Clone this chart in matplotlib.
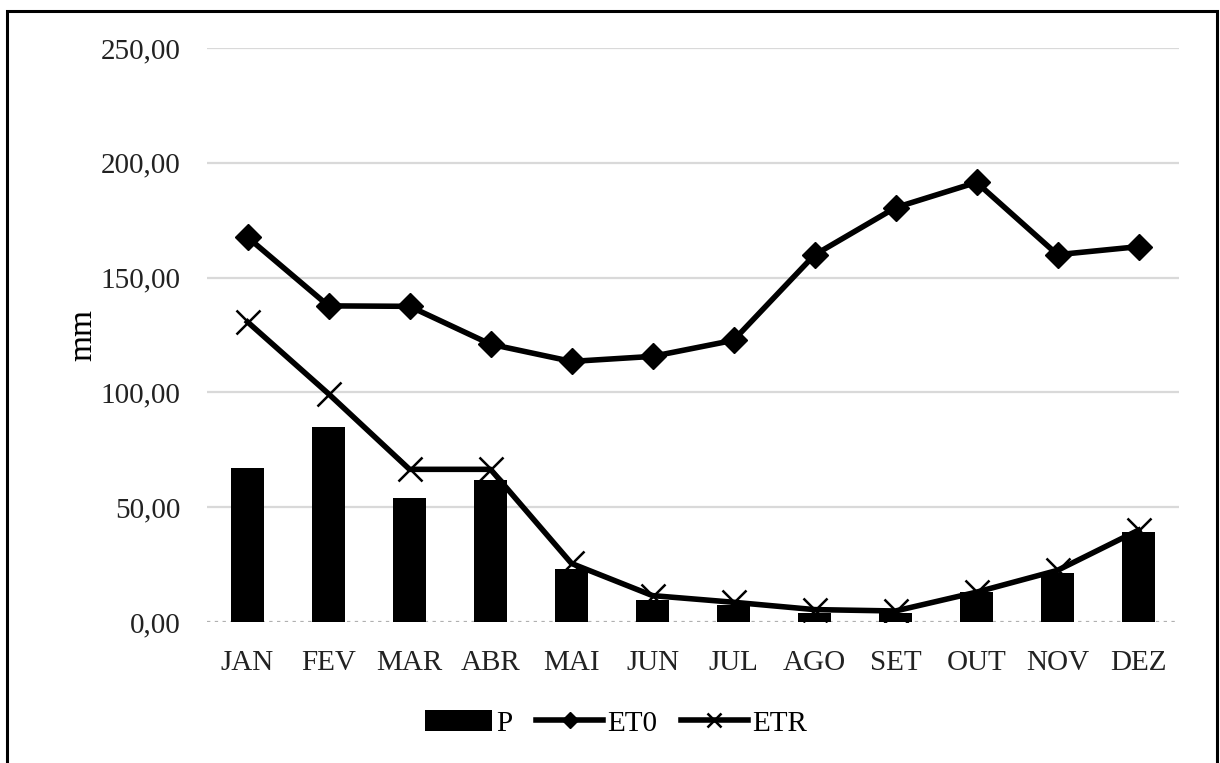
import matplotlib
matplotlib.use("Agg")
import matplotlib.pyplot as plt
import numpy as np
from matplotlib.patches import Rectangle
from matplotlib.ticker import FuncFormatter

months = ["JAN", "FEV", "MAR", "ABR", "MAI", "JUN", "JUL", "AGO", "SET", "OUT", "NOV", "DEZ"]
p = [67.2, 84.8, 54.0, 61.7, 23.2, 9.7, 7.5, 4.0, 3.8, 13.0, 21.2, 39.2]
et0 = [167.6, 137.7, 137.5, 121.0, 113.5, 115.7, 122.7, 159.9, 180.5, 191.5, 160.0, 163.5]
etr = [130.7, 99.4, 66.5, 66.5, 25.5, 11.5, 8.6, 5.4, 4.8, 13.0, 22.5, 40.0]

plt.rcParams['font.family'] = ['Liberation Serif', 'DejaVu Serif']

fig = plt.figure(figsize=(12.2, 7.63), dpi=100)
ax = fig.add_axes([0.1697, 0.1848, 0.7967, 0.7522])

x = np.arange(len(months))
bars = ax.bar(x, p, width=0.4, color='black', label='P', zorder=2)
l1, = ax.plot(x, et0, color='black', lw=4, marker='D', markersize=13, label='ET0', zorder=3)
l2, = ax.plot(x, etr, color='black', lw=4, marker='x', markersize=17, markeredgewidth=1.8,
              label='ETR', zorder=3)

ax.set_xlim(-0.5, 11.5)
ax.set_ylim(0, 250)
ax.set_yticks([0, 50, 100, 150, 200, 250])
ax.yaxis.set_major_formatter(FuncFormatter(lambda v, pos: f"{v:.2f}".replace('.', ',')))
ax.set_xticks(x)
ax.set_xticklabels(months)
ax.tick_params(axis='both', length=0, labelsize=21, colors='#222222')
ax.tick_params(axis='y', pad=19)
ax.tick_params(axis='x', pad=20)

for v in [50, 100, 150, 200, 250]:
    ax.axhline(v, color='#d9d9d9', lw=1.6, zorder=0)
ax.axhline(0, color='#b0b0b0', lw=1.6, ls=(0, (1.5, 2)), zorder=1)

for s in ax.spines.values():
    s.set_visible(False)

ax.set_ylabel('mm', fontsize=24, labelpad=2)

fig.legend([bars, l1, l2], ['P', 'ET0', 'ETR'], loc='center',
           bbox_to_anchor=(0.505, 0.052), ncol=3, frameon=False, markerscale=0.6,
           fontsize=21, handlelength=2.3, handletextpad=0.15, columnspacing=0.8)

# outer frame of the chart
fig.patches.append(Rectangle((7 / 1220, -0.05), 1210 / 1220, 1 - 11 / 763 + 0.05,
                             transform=fig.transFigure, fill=False, edgecolor='black',
                             lw=2.2, zorder=10))

fig.savefig('out.png', dpi=100)
